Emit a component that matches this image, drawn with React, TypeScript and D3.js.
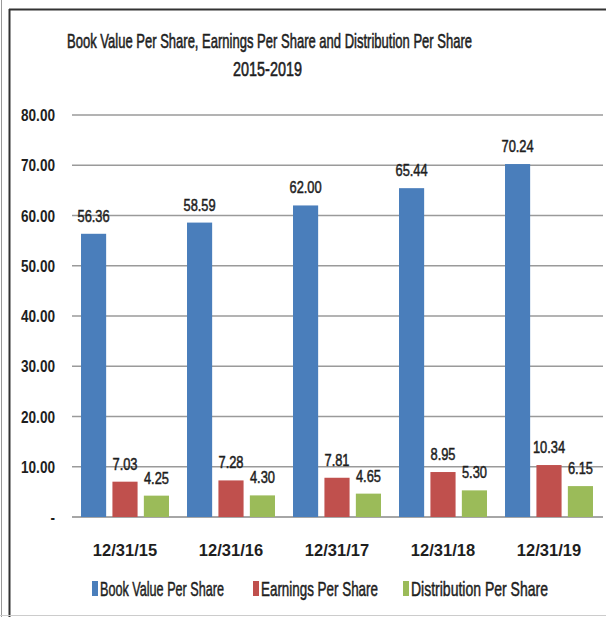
import React, { useLayoutEffect, useRef, useState } from "react";
import * as d3 from "d3";

const categories = ["12/31/15", "12/31/16", "12/31/17", "12/31/18", "12/31/19"];
const seriesNames = ["Book Value Per Share", "Earnings Per Share", "Distribution Per Share"];
const bookValue = [56.36, 58.59, 62.0, 65.44, 70.24];
const earnings = [7.03, 7.28, 7.81, 8.95, 10.34];
const distribution = [4.25, 4.3, 4.65, 5.3, 6.15];
const yTicks = [0, 10, 20, 30, 40, 50, 60, 70, 80];
const colors = ["#4A7EBB", "#C0504D", "#9BBB59"];

const W = 606;
const H = 617;
const sans = "'Liberation Sans', Arial, sans-serif";

// Text compressed horizontally to a given width (via a scale transform, measured at runtime)
function FitText(props: {
  x: number;
  y: number;
  width: number;
  size: number;
  stroke?: number;
  children: string;
}) {
  const { x, y, width, size, stroke, children } = props;
  const ref = useRef<SVGTextElement>(null);
  const [sx, setSx] = useState(0.65);
  useLayoutEffect(() => {
    if (ref.current) {
      const w = ref.current.getComputedTextLength();
      if (w > 0) setSx(width / w);
    }
  }, [width, children, size]);
  return (
    <text
      ref={ref}
      transform={`translate(${x},${y}) scale(${sx},1)`}
      fontFamily={sans}
      fontSize={size}
      fill="#1e1e1e"
      stroke={stroke ? "#1e1e1e" : "none"}
      strokeWidth={stroke || 0}
    >
      {children}
    </text>
  );
}

function CText(props: {
  x: number;
  y: number;
  sx: number;
  size: number;
  anchor?: string;
  bold?: boolean;
  stroke?: number;
  children: React.ReactNode;
}) {
  const { x, y, sx, size, anchor, bold, stroke, children } = props;
  return (
    <text
      transform={`translate(${x},${y}) scale(${sx},1)`}
      textAnchor={anchor || "start"}
      fontFamily={sans}
      fontWeight={bold ? "bold" : "normal"}
      fontSize={size}
      fill="#1e1e1e"
      stroke={stroke ? "#1e1e1e" : "none"}
      strokeWidth={stroke || 0}
    >
      {children}
    </text>
  );
}

export default function App() {
  const series = [bookValue, earnings, distribution];
  const x = d3.scaleBand<string>().domain(categories).range([72, 602]).paddingInner(0.17).paddingOuter(0.085);
  const xs = d3.scaleBand<number>().domain([0, 1, 2]).range([0, x.bandwidth()]).paddingInner(0.2);
  const y = d3.scaleLinear().domain([0, 80]).range([517, 115]);
  const fmt = d3.format(".2f");

  const legendX = [92, 253, 403];
  const legendW = [124, 117, 137];

  return (
    <svg width={W} height={H} style={{ position: "absolute", left: 0, top: 0, background: "#fff" }}>
      <rect x={0} y={0} width={W} height={H} fill="#fff" />
      {/* frame */}
      <line x1={1.5} y1={0} x2={1.5} y2={H} stroke="#999" strokeWidth={1} />
      <line x1={9.5} y1={9} x2={9.5} y2={H} stroke="#333" strokeWidth={2} />
      <line x1={9} y1={9.5} x2={W} y2={9.5} stroke="#333" strokeWidth={2} />
      <line x1={0} y1={615.5} x2={W} y2={615.5} stroke="#ccc" strokeWidth={1} />

      {/* title */}
      <FitText x={67} y={48} width={405} size={21} stroke={0.6}>
        Book Value Per Share, Earnings Per Share and Distribution Per Share
      </FitText>
      <FitText x={233} y={76} width={69} size={21} stroke={0.6}>
        2015-2019
      </FitText>

      {/* gridlines and y labels */}
      {yTicks.map((t) => (
        <g key={t}>
          <line x1={72} x2={603} y1={y(t)} y2={y(t)} stroke={t === 0 ? "#888" : "#9a9a9a"} strokeWidth={1.5} />
          <CText x={55} y={y(t) + 6} sx={0.8} size={17} anchor="end" bold>
            {t === 0 ? "-" : fmt(t)}
          </CText>
        </g>
      ))}

      {/* bars */}
      {categories.map((c, i) => (
        <g key={c} transform={`translate(${x(c)},0)`}>
          {series.map((s, k) => (
            <g key={k}>
              <rect x={xs(k)} y={y(s[i])} width={xs.bandwidth()} height={y(0) - y(s[i])} fill={colors[k]} />
              <CText
                x={(xs(k) as number) + xs.bandwidth() / 2}
                y={y(s[i]) - 12}
                sx={0.78}
                size={16.5}
                anchor="middle"
                stroke={0.5}
              >
                {fmt(s[i])}
              </CText>
            </g>
          ))}
          <text
            x={x.bandwidth() / 2}
            y={556}
            textAnchor="middle"
            fontFamily={sans}
            fontWeight="bold"
            fontSize={16.5}
            fill="#1e1e1e"
          >
            {c}
          </text>
        </g>
      ))}

      {/* legend */}
      {seriesNames.map((n, k) => (
        <g key={n}>
          <rect x={legendX[k]} y={581} width={6} height={15} fill={colors[k]} />
          <FitText x={legendX[k] + 8} y={596} width={legendW[k]} size={20} stroke={0.5}>
            {n}
          </FitText>
        </g>
      ))}
    </svg>
  );
}
